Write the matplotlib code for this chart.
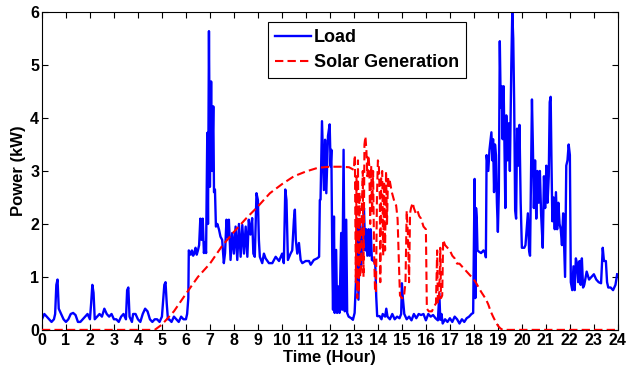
import matplotlib
matplotlib.use("Agg")
import matplotlib.pyplot as plt

plt.rcParams['font.family'] = ['Liberation Sans', 'DejaVu Sans']

# Load (kW) vs time (hour)
load_t = [0, 0.1, 0.2, 0.3, 0.4, 0.5, 0.55, 0.6, 0.65, 0.7, 0.75, 0.8, 0.9, 1.0, 1.1, 1.2, 1.3, 1.4, 1.5, 1.6,
          1.7, 1.8, 1.9, 2.0, 2.05, 2.1, 2.15, 2.2, 2.3, 2.4, 2.5, 2.6, 2.7, 2.8, 2.9, 3.0, 3.1, 3.2, 3.3, 3.4,
          3.5, 3.55, 3.6, 3.65, 3.7, 3.75, 3.8, 3.9, 4.0, 4.1, 4.2, 4.3, 4.4, 4.5, 4.6, 4.7, 4.8, 4.9, 5.0, 5.1,
          5.15, 5.2, 5.25, 5.3, 5.4, 5.5, 5.6, 5.7, 5.8, 5.9, 6.0, 6.05, 6.1, 6.12,
          6.2, 6.25, 6.3, 6.35, 6.4, 6.45, 6.5, 6.55, 6.6, 6.65, 6.7, 6.75, 6.8, 6.84, 6.89, 6.92, 6.96, 7.0,
          7.05, 7.09, 7.14, 7.17, 7.21, 7.25, 7.31, 7.38, 7.44, 7.51, 7.58, 7.63, 7.69, 7.74, 7.79, 7.86, 7.93,
          8.0, 8.07, 8.14, 8.21, 8.28, 8.35, 8.42, 8.49, 8.56, 8.62, 8.69, 8.76, 8.81, 8.87, 8.94, 9.0, 9.04,
          9.08, 9.18, 9.25, 9.32, 9.46, 9.6, 9.74, 9.88, 10.01, 10.08, 10.14, 10.19, 10.25, 10.36, 10.43, 10.5,
          10.54, 10.58, 10.64, 10.71, 10.78, 10.85, 10.99, 11.13, 11.2, 11.33, 11.47, 11.55, 11.58,
          11.61, 11.67, 11.71, 11.75, 11.8, 11.85, 11.92, 11.99, 12.03, 12.06, 12.1, 12.13, 12.17, 12.2, 12.26,
          12.3, 12.36, 12.4, 12.47, 12.51, 12.57, 12.62, 12.68, 12.72, 12.78, 12.89, 12.96, 13.03, 13.1, 13.14,
          13.19, 13.25, 13.31, 13.36, 13.42, 13.47, 13.51, 13.56, 13.61, 13.65, 13.7, 13.75, 13.82, 13.89,
          13.93, 13.97, 14.07, 14.15, 14.2, 14.3, 14.35, 14.4, 14.5, 14.6, 14.7, 14.8, 14.9, 14.97, 15.0,
          15.04, 15.1, 15.15, 15.2, 15.3, 15.4, 15.5, 15.6, 15.7, 15.8, 15.9, 16.0, 16.1, 16.2, 16.3, 16.4,
          16.5, 16.56, 16.6, 16.65, 16.7, 16.8, 16.9, 17.0, 17.1, 17.2, 17.3, 17.4, 17.5, 17.6, 17.7, 17.8,
          17.9, 17.97, 18.03, 18.06, 18.09, 18.12, 18.15, 18.2, 18.3, 18.4, 18.47, 18.5, 18.53, 18.6, 18.65,
          18.73, 18.77, 18.8, 18.84, 18.88, 18.92, 18.96, 19.0, 19.04, 19.08, 19.12, 19.16, 19.2, 19.24, 19.28,
          19.31, 19.35, 19.4, 19.45, 19.5, 19.56, 19.6, 19.64, 19.68, 19.72, 19.76, 19.8, 19.85, 19.9, 19.95,
          20.0, 20.1, 20.15, 20.25, 20.3, 20.34, 20.42, 20.46, 20.5, 20.55, 20.6, 20.65, 20.7, 20.75, 20.8,
          20.87, 20.92, 20.97, 21.02, 21.07, 21.12, 21.16, 21.2, 21.23, 21.27, 21.32, 21.37, 21.42, 21.47,
          21.52, 21.57, 21.62, 21.67, 21.72, 21.8, 21.85, 21.9, 21.95, 22.0, 22.04, 22.1, 22.15, 22.2, 22.25,
          22.3, 22.35, 22.4, 22.45, 22.5, 22.55, 22.6, 22.7, 22.8, 22.9, 23.0, 23.1, 23.2, 23.3, 23.37, 23.42,
          23.5, 23.55, 23.6, 23.7, 23.8, 23.9, 23.97]
load_kw = [0.2, 0.3, 0.25, 0.2, 0.15, 0.2, 0.3, 0.85, 0.95, 0.4, 0.35, 0.3, 0.2, 0.15, 0.2, 0.3, 0.32, 0.28, 0.15, 0.15,
           0.2, 0.25, 0.3, 0.2, 0.5, 0.85, 0.7, 0.2, 0.25, 0.3, 0.25, 0.4, 0.3, 0.25, 0.3, 0.2, 0.2, 0.15, 0.25, 0.3,
           0.2, 0.75, 0.8, 0.25, 0.2, 0.15, 0.3, 0.3, 0.2, 0.15, 0.3, 0.4, 0.35, 0.2, 0.15, 0.2, 0.2, 0.15, 0.25, 0.85,
           0.9, 0.5, 0.2, 0.2, 0.15, 0.25, 0.2, 0.15, 0.25, 0.2, 0.2, 0.3, 0.6, 1.5,
           1.42, 1.5, 1.4, 1.45, 1.55, 1.42, 1.5, 1.6, 2.1, 1.7, 2.1, 1.45, 1.65, 1.45, 3.72, 2.0, 5.64, 2.7,
           4.69, 3.0, 4.22, 2.6, 2.65, 1.95, 2.0, 1.89, 1.76, 1.7, 1.26, 1.45, 2.08, 1.75, 2.08, 1.32, 1.83,
           1.44, 1.95, 1.32, 2.0, 1.38, 1.98, 1.44, 1.95, 1.38, 2.08, 1.8, 2.11, 1.44, 1.38, 2.58, 2.45, 1.7,
           1.38, 1.26, 1.44, 1.35, 1.26, 1.26, 1.38, 1.3, 1.44, 1.26, 2.65, 2.45, 1.32, 1.44, 1.5, 2.08,
           2.27, 1.7, 1.44, 1.64, 1.32, 1.26, 1.3, 1.3, 1.23, 1.32, 1.35, 1.38, 2.45,
           2.46, 3.94, 3.28, 2.64, 3.59, 2.58, 3.66, 3.88, 3.09, 3.4, 1.32, 0.38, 2.14, 0.32, 1.51,
           0.32, 0.82, 0.32, 1.83, 0.38, 3.4, 0.35, 2.08, 0.32, 0.25, 0.22, 0.19, 0.32, 1.07, 2.1,
           0.57, 2.0, 1.2, 1.9, 2.3, 1.5, 1.9, 1.4, 1.9, 1.4, 1.9, 1.32, 1.3, 1.26,
           0.63, 0.26, 0.26, 0.2, 0.3, 0.25, 0.4, 0.25, 0.2, 0.3, 0.2, 0.25, 0.22, 0.3, 0.88,
           0.6, 0.3, 0.25, 0.2, 0.25, 0.18, 0.3, 0.22, 0.3, 0.28, 0.3, 0.18, 0.3, 0.25, 0.28, 0.22,
           0.18, 0.69, 0.19, 0.3, 0.12, 0.2, 0.15, 0.22, 0.15, 0.25, 0.2, 0.12, 0.2, 0.15, 0.22, 0.25,
           0.3, 0.32, 2.85, 0.6, 2.3, 2.1, 1.5, 1.48, 1.45, 1.5, 1.45, 1.37, 3.3, 3.0, 3.4,
           3.73, 3.2, 3.6, 2.6, 3.5, 3.3, 2.4, 1.85, 2.6, 5.45, 4.2, 4.6, 3.6, 4.6, 3.3,
           2.3, 4.05, 3.2, 3.9, 3.0, 5.0, 6.0, 5.5, 4.25, 2.25, 2.1, 3.8, 3.1, 3.87, 2.4,
           1.55, 1.55, 1.6, 2.2, 1.5, 1.4, 4.35, 3.44, 2.3, 3.2, 2.1, 3.0, 2.4, 3.0, 2.2,
           1.55, 2.9, 2.3, 3.1, 2.4, 2.9, 4.3, 4.4, 3.3, 2.05, 2.5, 1.9, 2.6, 1.9,
           2.4, 2.0, 1.9, 1.6, 2.2, 1.0, 3.1, 3.2, 3.5, 3.3, 0.9, 0.75, 1.2, 0.75, 1.35,
           1.25, 0.9, 1.3, 0.85, 1.35, 0.8, 0.85, 1.1, 0.95, 1.0, 1.05, 0.95, 0.9, 0.88, 1.55, 1.3,
           1.3, 0.9, 0.8, 0.8, 0.75, 0.85, 1.05]

# Solar generation (kW) vs time (hour)
solar_t = [0, 4.7, 5.0, 5.5, 6.0, 6.5, 7.0, 7.5, 8.0, 8.5, 9.0, 9.5, 10.0, 10.5, 11.0, 11.5, 12.0, 12.5, 12.8,
           13.0, 13.04, 13.08, 13.11, 13.14, 13.17, 13.2, 13.23, 13.26, 13.3, 13.33, 13.37, 13.4, 13.44, 13.48,
           13.52, 13.56, 13.6, 13.64, 13.68, 13.72, 13.76, 13.8, 13.84, 13.88, 13.92, 13.96, 14.0, 14.04, 14.08,
           14.1, 14.14, 14.18, 14.22, 14.26, 14.3, 14.34, 14.38, 14.42, 14.46, 14.5, 14.58, 14.64, 14.7, 14.76,
           14.82, 14.88, 14.92, 15.0, 15.08, 15.15, 15.2, 15.25, 15.3, 15.34, 15.38, 15.45, 15.5, 15.58, 15.65,
           15.72, 15.8, 15.9, 16.0, 16.04, 16.12, 16.25, 16.35, 16.42, 16.47, 16.5, 16.55, 16.6, 16.63, 16.68,
           16.72, 16.8, 16.9, 17.0, 17.1, 17.2, 17.3, 17.4, 17.5, 17.6, 17.7, 17.8, 17.9, 18.0, 18.1, 18.2,
           18.3, 18.4, 18.5, 18.6, 18.7, 18.8, 18.9, 19.0, 19.1, 19.2, 24.0]
solar_kw = [0, 0, 0.1, 0.35, 0.68, 1.0, 1.25, 1.58, 1.85, 2.1, 2.33, 2.58, 2.75, 2.9, 2.99, 3.06, 3.08, 3.08, 3.07,
            3.02, 3.3, 0.9, 2.9, 0.6, 3.2, 0.7, 2.6, 1.0, 1.2, 2.2, 3.0, 1.0, 3.5, 3.65,
            3.4, 2.9, 3.3, 3.1, 2.0, 3.1, 2.2, 3.0, 1.5, 0.75, 0.7, 2.5, 3.2, 3.1, 2.5,
            0.9, 2.9, 3.0, 1.4, 2.8, 1.5, 3.0, 2.0, 2.9, 2.7, 2.8, 2.6, 2.5, 2.4, 2.35,
            2.1, 1.2, 0.65, 0.6, 0.6, 0.9, 2.25, 1.8, 0.9, 2.2, 2.3, 2.4, 2.3, 2.2, 2.25,
            2.15, 2.1, 1.95, 1.9, 0.4, 0.35, 0.35, 0.45, 0.5, 1.5, 0.5, 0.55, 1.55, 0.6, 0.65,
            1.7, 1.6, 1.55, 1.5, 1.4, 1.35, 1.25, 1.25, 1.2, 1.15, 1.1, 1.05, 1.0, 0.95, 0.88, 0.8,
            0.72, 0.65, 0.58, 0.48, 0.35, 0.25, 0.16, 0.08, 0.03, 0.0, 0.0]

x_ticks = list(range(0, 25))
y_ticks = list(range(0, 7))

fig = plt.figure(figsize=(6.26, 3.77), dpi=100)
ax = fig.add_axes([0.067, 0.125, 0.92, 0.843])

ax.plot(load_t, load_kw, color='#0000ff', lw=1.7, label='Load', zorder=2)
ax.plot(solar_t, solar_kw, color='#ff0000', lw=1.5, ls=(0, (4, 2)), label='Solar Generation', zorder=3)

ax.set_xlim(0, 24)
ax.set_ylim(0, 6)
ax.set_xticks(x_ticks)
ax.set_yticks(y_ticks)
ax.tick_params(direction='in', top=True, right=True, length=4, width=0.8, labelsize=11.5, pad=2)
for lab in ax.get_xticklabels() + ax.get_yticklabels():
    lab.set_fontweight('bold')
for s in ax.spines.values():
    s.set_linewidth(0.8)

ax.set_xlabel('Time (Hour)', fontsize=12, fontweight='bold', labelpad=2)
ax.set_ylabel('Power (kW)', fontsize=12, fontweight='bold', labelpad=3)

leg = ax.legend(loc='upper left', bbox_to_anchor=(0.392, 0.969), borderaxespad=0, fancybox=False,
                framealpha=1, edgecolor='black', prop={'weight': 'bold', 'size': 13},
                handlelength=2.0, handletextpad=0.15, borderpad=0.4, labelspacing=0.45)
leg.get_frame().set_linewidth(0.8)

fig.savefig('out.png', dpi=100)
